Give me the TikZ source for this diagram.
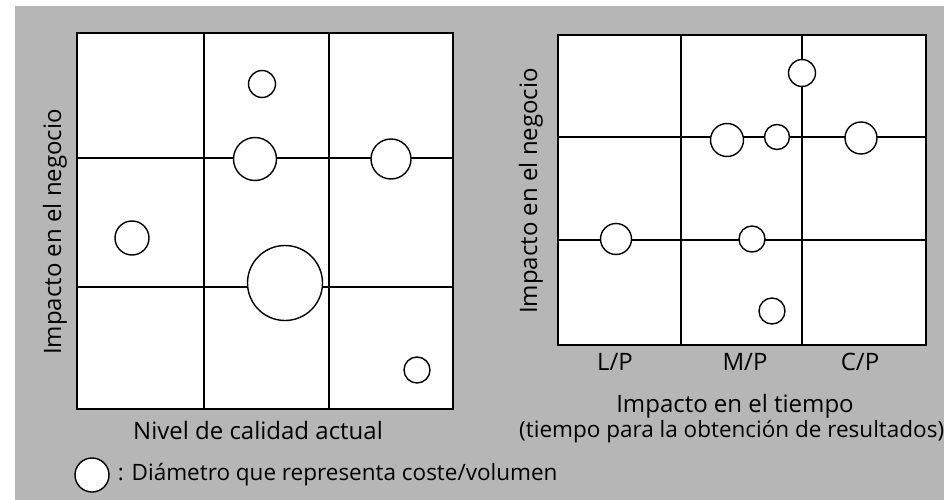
\documentclass[tikz,border=0pt]{standalone}
\usepackage{fontspec}
\setmainfont{Open Sans}
\usetikzlibrary{positioning}
\definecolor{panelgray}{RGB}{182,182,182}
\tikzset{
  gridline/.style={line width=1.6pt},
  bub/.style={circle, draw, fill=white, line width=1.4pt, inner sep=0pt},
  lbl/.style={font=\fontsize{24}{26}\selectfont, inner sep=0pt},
  smalllbl/.style={font=\fontsize{22.5}{24}\selectfont, inner sep=0pt},
}

\begin{document}
\begin{tikzpicture}[x=1pt,y=-1pt]
  \useasboundingbox (0,0) rectangle (944,500);
  % Background
  \fill[white] (0,0) rectangle (944,500);
  \fill[panelgray] (15,6) rectangle (944,500);

  % Left matrix (quality vs. business impact)
  \draw[gridline, fill=white] (77,33) rectangle (453,409);
  \draw[gridline] (204,33) -- (204,409) (329,33) -- (329,409);
  \draw[gridline] (77,158) -- (453,158) (77,287) -- (453,287);
  \node[bub, minimum size=27pt] (la) at (262,84) {};
  \node[bub, minimum size=43pt] (lb) at (255,159) {};
  \node[bub, minimum size=40pt] (lc) at (391,159) {};
  \node[bub, minimum size=34pt] (ld) at (132,238) {};
  \node[bub, minimum size=75pt] (le) at (285,283) {};
  \node[bub, minimum size=26pt] (lf) at (417,370) {};
  \node[lbl, rotate=90] (lyax) at (55,232) {Impacto en el negocio};
  \node[lbl] (lxax) at (258,430) {Nivel de calidad actual};

  % Right matrix (time vs. business impact)
  \draw[gridline, fill=white] (558,35) rectangle (926,345);
  \draw[gridline] (681,35) -- (681,345) (802,35) -- (802,345);
  \draw[gridline] (558,137) -- (926,137) (558,240) -- (926,240);
  \node[bub, minimum size=27pt] (ra) at (802,73) {};
  \node[bub, minimum size=33pt] (rb) at (727,140) {};
  \node[bub, minimum size=25pt] (rc) at (777,137) {};
  \node[bub, minimum size=32pt] (rd) at (861,138) {};
  \node[bub, minimum size=31pt] (re) at (616,239) {};
  \node[bub, minimum size=26pt] (rf) at (752,239) {};
  \node[bub, minimum size=26pt] (rg) at (772,311) {};
  \node[lbl, rotate=90] (ryax) at (531,191) {Impacto en el negocio};
  \node[lbl] (lp) at (615,362) {L/P};
  \node[lbl] (mp) at (745,362) {M/P};
  \node[lbl] (cp) at (860,362) {C/P};
  \node[lbl] (rxax) at (735,406) {Impacto en el tiempo};
  \node[smalllbl, anchor=west] (rxsub) at (519,432) {(tiempo para la obtención de resultados)};

  % Legend
  \node[bub, minimum size=34pt] (leg) at (92,475) {};
  \node[smalllbl, right=8pt of leg] (legtxt) {: Diámetro que representa coste/volumen};
\end{tikzpicture}
\end{document}
